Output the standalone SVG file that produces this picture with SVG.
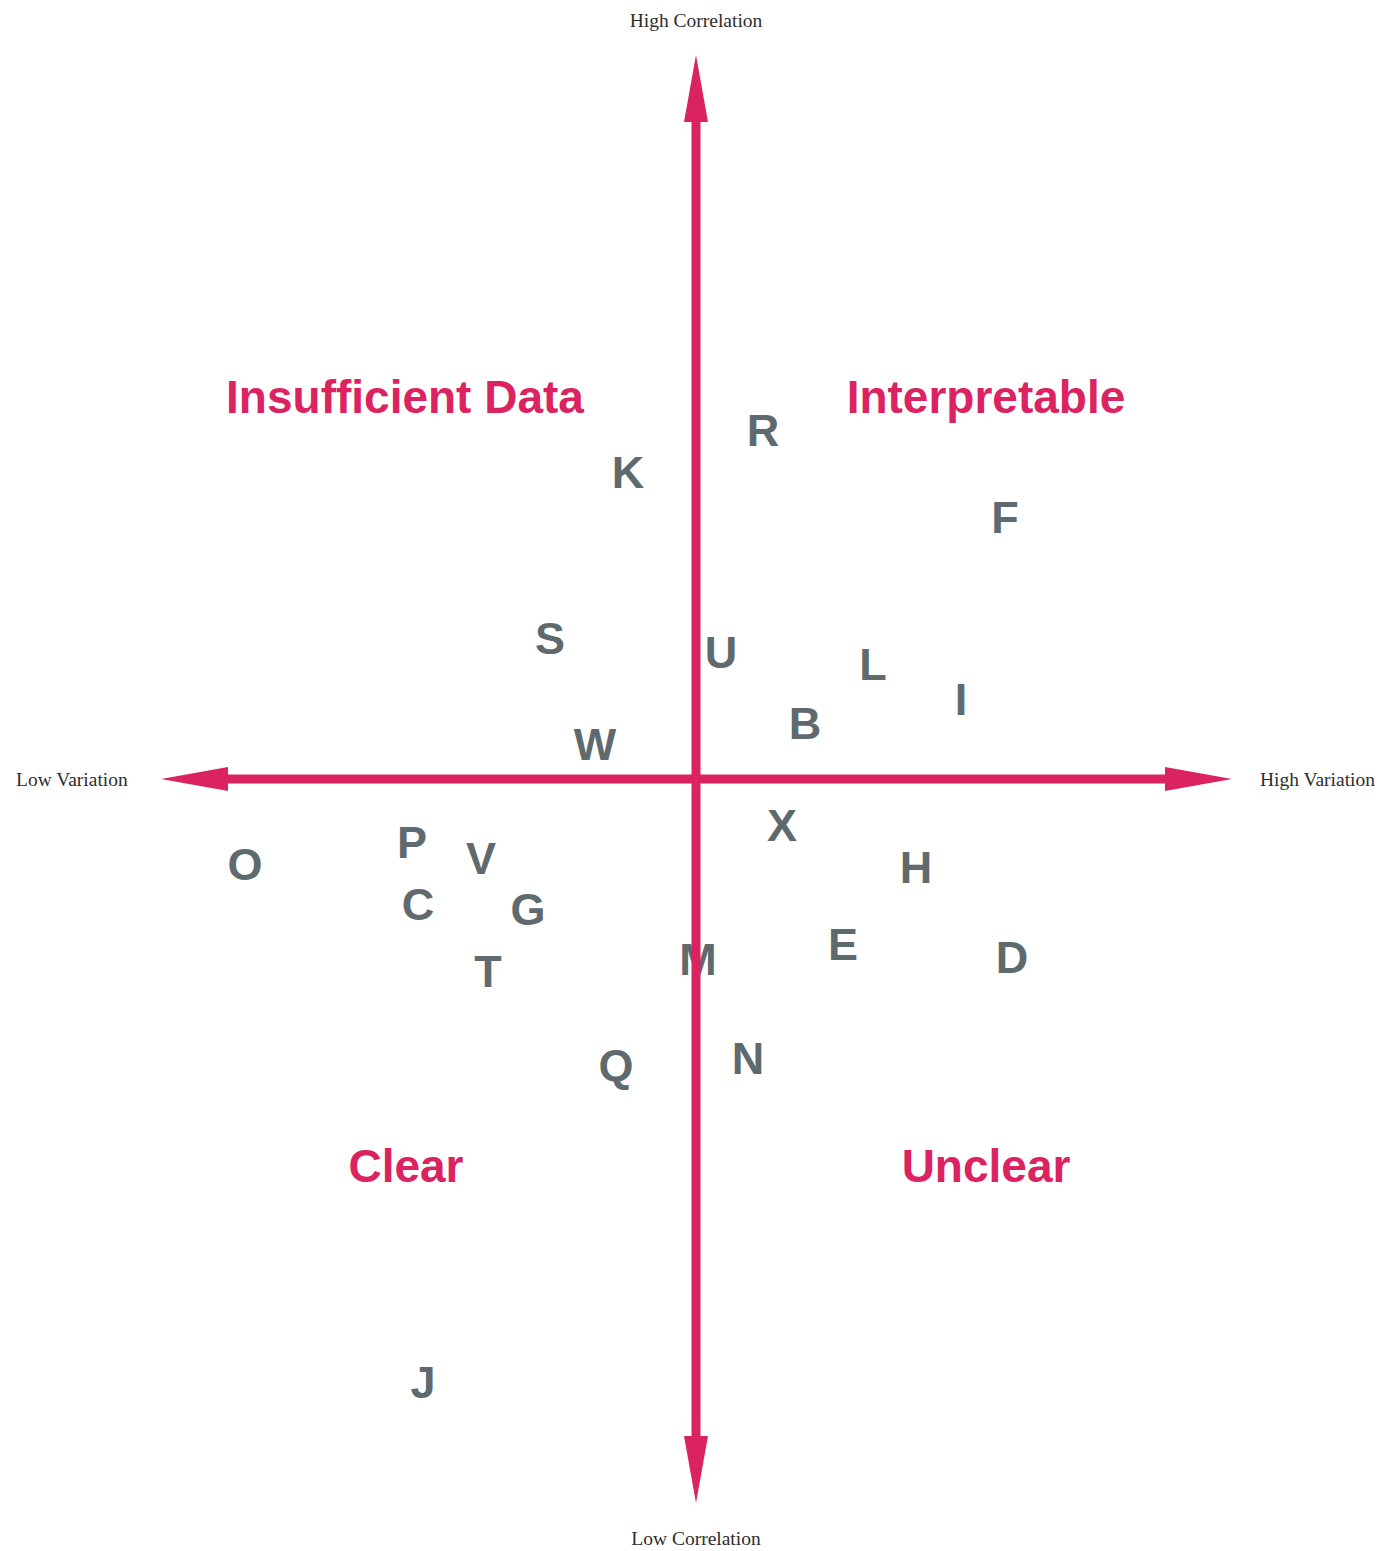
<svg xmlns="http://www.w3.org/2000/svg" width="1385" height="1551" viewBox="0 0 1385 1551">
<style>
.axis{stroke:#da2360;stroke-width:9;fill:none;marker-start:url(#head);marker-end:url(#head)}
.axlbl{font-family:"Liberation Serif","Times New Roman",serif;font-size:19.5px;fill:#2e2e2e}
.quad{font-family:"Liberation Sans",Arial,sans-serif;font-weight:bold;font-size:46px;fill:#da2360;text-anchor:middle}
.pt{font-family:"Liberation Sans",Arial,sans-serif;font-weight:bold;font-size:45px;fill:#5f6a6e;text-anchor:middle}
</style>
<defs>
<marker id="head" markerUnits="userSpaceOnUse" markerWidth="67" markerHeight="24" refX="1" refY="12" orient="auto-start-reverse">
<path d="M0,0 L67,12 L0,24 Z" fill="#da2360"/>
</marker>
</defs>
<rect width="1385" height="1551" fill="#ffffff"/>
<g id="quadrants">
<text id="q-insufficient" class="quad" x="405" y="413">Insufficient Data</text>
<text id="q-interpretable" class="quad" x="986" y="413">Interpretable</text>
<text id="q-clear" class="quad" x="406" y="1182">Clear</text>
<text id="q-unclear" class="quad" x="986" y="1182">Unclear</text>
</g>
<g id="points">
<g id="pt-R"><text class="pt" x="763" y="446">R</text></g>
<g id="pt-K"><text class="pt" x="628" y="488">K</text></g>
<g id="pt-F"><text class="pt" x="1005" y="533">F</text></g>
<g id="pt-S"><text class="pt" x="550" y="654">S</text></g>
<g id="pt-U"><text class="pt" x="721" y="668">U</text></g>
<g id="pt-L"><text class="pt" x="873" y="680">L</text></g>
<g id="pt-I"><text class="pt" x="961" y="715">I</text></g>
<g id="pt-B"><text class="pt" x="805" y="739">B</text></g>
<g id="pt-W"><text class="pt" x="595" y="760">W</text></g>
<g id="pt-X"><text class="pt" x="782" y="841">X</text></g>
<g id="pt-P"><text class="pt" x="412" y="858">P</text></g>
<g id="pt-V"><text class="pt" x="481" y="874">V</text></g>
<g id="pt-O"><text class="pt" x="245" y="880">O</text></g>
<g id="pt-H"><text class="pt" x="916" y="883">H</text></g>
<g id="pt-C"><text class="pt" x="418" y="920">C</text></g>
<g id="pt-G"><text class="pt" x="528" y="925">G</text></g>
<g id="pt-E"><text class="pt" x="843" y="960">E</text></g>
<g id="pt-D"><text class="pt" x="1012" y="973">D</text></g>
<g id="pt-M"><text class="pt" x="698" y="975">M</text></g>
<g id="pt-T"><text class="pt" x="488" y="987">T</text></g>
<g id="pt-N"><text class="pt" x="748" y="1074">N</text></g>
<g id="pt-Q"><text class="pt" x="616" y="1081">Q</text></g>
<g id="pt-J"><text class="pt" x="423" y="1398">J</text></g>
</g>
<g id="connectors">
<line id="axis-x" class="axis" x1="227" y1="779" x2="1166" y2="779"/>
<line id="axis-y" class="axis" x1="696" y1="121" x2="696" y2="1437"/>
</g>
<g id="axis-labels">
<text id="lbl-high-corr" class="axlbl" x="696" y="27" text-anchor="middle">High Correlation</text>
<text id="lbl-low-corr" class="axlbl" x="696" y="1545" text-anchor="middle">Low Correlation</text>
<text id="lbl-low-var" class="axlbl" x="16" y="786">Low Variation</text>
<text id="lbl-high-var" class="axlbl" x="1260" y="786">High Variation</text>
</g>
</svg>
